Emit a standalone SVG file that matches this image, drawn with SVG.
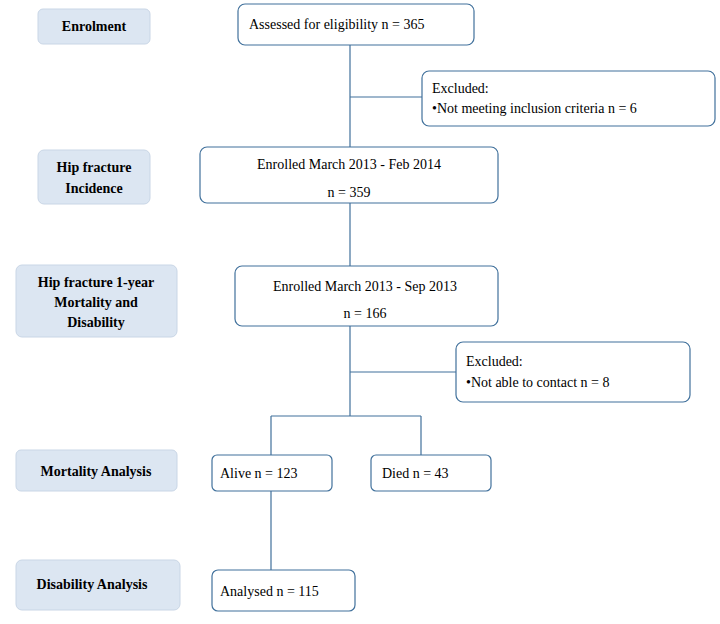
<svg xmlns="http://www.w3.org/2000/svg" width="720" height="624" viewBox="0 0 720 624">
<style>
.l{fill:#dce6f2;stroke:#c9d6e6;stroke-width:1}
.r{fill:#fff;stroke:#41719c;stroke-width:1.2}
.lt{font-family:"Liberation Serif",serif;font-size:14px;font-weight:bold;fill:#000;text-anchor:middle}
.t{font-family:"Liberation Serif",serif;font-size:14px;fill:#000}
.c{stroke:#41719c;stroke-width:1.2;fill:none}
</style>
<rect width="720" height="624" fill="#fff"/>
<g id="connectors">
<path class="c" d="M350 45V147M350 97H422M350 203V266M350 326V416M350 372H456M271 416H421M271 416V455M421 416V455M271 491V570"/>
</g>
<g id="enrolment"><rect class="l" x="38" y="9" width="112" height="35" rx="5"/><text class="lt" x="94" y="31">Enrolment</text></g>
<g id="incidence"><rect class="l" x="38" y="150" width="112" height="54" rx="6"/><text class="lt" x="94" y="172">Hip fracture</text><text class="lt" x="94" y="193">Incidence</text></g>
<g id="oneyear"><rect class="l" x="16" y="265" width="161" height="72" rx="6"/><text class="lt" x="96" y="287">Hip fracture 1-year</text><text class="lt" x="96" y="307">Mortality and</text><text class="lt" x="96" y="327">Disability</text></g>
<g id="mortality"><rect class="l" x="16" y="450" width="161" height="41" rx="5"/><text class="lt" x="96" y="476">Mortality  Analysis</text></g>
<g id="disability"><rect class="l" x="16" y="560" width="164" height="50" rx="6"/><text class="lt" x="92" y="589">Disability Analysis</text></g>
<g id="assessed"><rect class="r" x="238" y="4" width="236" height="41" rx="7"/><text class="t" x="249" y="29">Assessed for  eligibility  n = 365</text></g>
<g id="excluded1"><rect class="r" x="422" y="71" width="293" height="55" rx="7"/><text class="t" x="432" y="93">Excluded:</text><text class="t" x="432" y="113">•Not  meeting  inclusion  criteria  n = 6</text></g>
<g id="enrolled1"><rect class="r" x="200" y="147" width="298" height="56" rx="7"/><text class="t" x="349" y="169" text-anchor="middle">Enrolled  March  2013 - Feb 2014</text><text class="t" x="349" y="197" text-anchor="middle">n = 359</text></g>
<g id="enrolled2"><rect class="r" x="235" y="266" width="263" height="60" rx="7"/><text class="t" x="365" y="291" text-anchor="middle">Enrolled  March  2013 - Sep 2013</text><text class="t" x="365" y="318" text-anchor="middle">n = 166</text></g>
<g id="excluded2"><rect class="r" x="456" y="342" width="234" height="60" rx="7"/><text class="t" x="466" y="366">Excluded:</text><text class="t" x="466" y="387">•Not  able  to contact  n = 8</text></g>
<g id="alive"><rect class="r" x="212" y="455" width="120" height="36" rx="5"/><text class="t" x="220" y="478">Alive  n = 123</text></g>
<g id="died"><rect class="r" x="371" y="455" width="120" height="36" rx="5"/><text class="t" x="382" y="478">Died n = 43</text></g>
<g id="analysed"><rect class="r" x="212" y="570" width="143" height="41" rx="6"/><text class="t" x="220" y="596">Analysed  n = 115</text></g>
</svg>
